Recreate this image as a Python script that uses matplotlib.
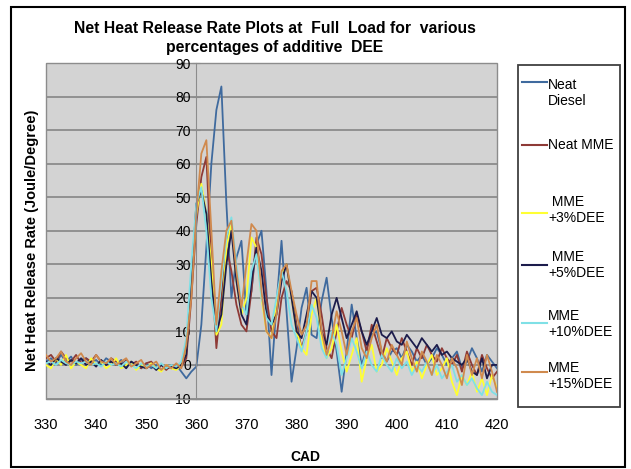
import matplotlib
matplotlib.use("Agg")
import matplotlib.pyplot as plt
from matplotlib.lines import Line2D
from matplotlib.patches import Rectangle

# crank angle (deg), one reading per degree
cad = list(range(330, 421))

neat_diesel = [
    1, 2, 0.5, 3, 1, 2.5, 0, 1.5, 2, 0.5,
    1.5, 0, 2, 1, 0, 1.5, -0.5, 1, 0, -1,
    0.5, -1, 0, -1.5, -0.5, -1, 0, -2, -4, -2,
    -0.5, 12, 35, 60, 76, 83, 48, 20, 32, 37,
    15, 22, 36, 40, 22, -3, 18, 37, 16, -5,
    5, 17, 23, 9, 8, 19, 26, 14, 4, -8,
    4, 18, 8, 0, 5, 9, 10, 4, 1, 4,
    5, 2, 6, 4, 1, 3, 0, 2, 5, 3,
    0, 2, 4, -1, 1, 5, 2, -2, 3, 1, -1,
]
neat_mme = [
    2, 3, 1, 4, 2, 1, 3, 0.5, 2, 1,
    3, 1, 0, 2, 1, -0.5, 1.5, 0, 1, -1,
    0.5, 1, -1, 0, -1.5, 0, -1, -0.5, 2, 20,
    42, 56, 62, 30, 5, 20, 35, 28, 18, 12,
    10, 22, 38, 33, 20, 10, 8, 20, 25, 22,
    12, 5, 10, 22, 23, 15, 5, 2, 10, 17,
    12, 8, 15, 10, 4, 12, 7, 2, 8, 5,
    3, 8, 4, 0, 5, 2, 6, 3, 1, 5,
    2, 0, 3, -2, 4, 0, -3, 3, -1, -4, -2,
]
mme_3dee = [
    0, -1, 2, 0, 3, -1, 1, 0, -1, 2,
    0, 1, -1, 0, 2, -1, 0, 1, -1.5, 0,
    -1, 0.5, -1, -2, 0, -1, -1.5, 0, 5, 25,
    45, 54, 45, 30, 9, 12, 35, 42, 25, 15,
    20, 38, 35, 20, 10, 8, 18, 27, 30, 20,
    10, 5, 3, 15, 20, 8, 2, 5, 12, 4,
    -2, 3, 8, -5, 2, 6, -2, 0, 5, 1,
    -3, 2, 4, -2, 1, -4, 0, 3, -3, -1,
    2, -5, -9, -3, -6, -2, -8, -4, -9, -3, -7,
]
mme_5dee = [
    1, 0, 2, 1, 0, 1.5, 0.5, 2, 0, 1,
    -0.5, 1.5, 0, 1, 0, 0.5, -1, 1, 0, -0.5,
    -1, 0, -1.5, 0, -1, -0.5, -1, 0, 3, 25,
    48, 52, 45, 25, 10, 15, 30, 40, 25, 15,
    12, 25, 35, 28, 15, 12, 15, 25, 30, 20,
    10, 8, 15, 22, 20, 10, 6, 15, 20, 14,
    8, 12, 16, 10, 6, 10, 14, 9, 8, 10,
    7, 6, 9, 7, 5, 8, 6, 4, 6, 3,
    4, 2, 1, 0, 2, -2, -3, 2, -4, 0, 0,
]
mme_10dee = [
    0.5, 1, 0, 1.5, 0.5, 0, 1, 0.5, 1, 0,
    0.5, -0.5, 1, 0, 0.5, -0.5, 1, 0, -1, 0.5,
    -0.5, 0, -1, 0.5, -1, 0, -0.5, 1, 8, 30,
    48, 53, 40, 20, 10, 25, 38, 44, 30, 18,
    15, 28, 33, 20, 14, 12, 20, 28, 22, 12,
    8, 4, 10, 18, 14, 5, 2, 10, 6, -3,
    2, 8, 4, -1, 4, 0, -2, 3, 0, -2,
    2, -1, 1, -3, 0, -2, 1, -3, 0, -4,
    -2, 0, -5, -3, -6, -4, -7, -9, -5, -8, -9,
]
mme_15dee = [
    3, 1, 2, 4, 1, 0, 2, 3.5, 1, 0,
    3, 1, 0.5, 2, 0, 1, 2, -0.5, 0.5, 1.5,
    -1, 0, 1, -1.5, 0, -1, 0.5, -1, 6, 20,
    45, 63, 67, 40, 12, 28, 40, 43, 28, 17,
    30, 42, 40, 22, 10, 8, 15, 28, 30, 22,
    15, 9, 12, 25, 25, 10, 3, 8, 16, 10,
    3, 10, 14, 5, 2, 8, 12, 4, 1, 6,
    3, 0, 7, 2, -2, 4, 1, -3, 3, 0,
    -4, 2, -1, -6, 3, -3, 2, -4, 3, -2, -8,
]

series = [neat_diesel, neat_mme, mme_3dee, mme_5dee, mme_10dee, mme_15dee]
labels = ["Neat\nDiesel", "Neat MME", " MME\n+3%DEE", " MME\n+5%DEE",
          "MME\n+10%DEE", "MME\n+15%DEE"]
colors = ["#3F6A9E", "#8E3A36", "#FFFF33", "#1C1C4C", "#7FE0E6", "#D08A4E"]

plt.rcParams["font.family"] = ["Liberation Sans", "DejaVu Sans"]

W, H = 631, 469
fig = plt.figure(figsize=(W / 100, H / 100), dpi=100)
ax = fig.add_axes([46 / W, 1 - 398.5 / H, (497 - 46) / W, (398.5 - 63) / H])
ax.set_facecolor("#D3D3D3")
ax.patch.set_edgecolor("#8C8C8C")
ax.patch.set_linewidth(1.0)

for y, lab, c in zip(series, labels, colors):
    ax.plot(cad, y, color=c, lw=1.3, label=lab)

ax.set_xlim(330, 420)
ax.set_ylim(-10, 90)
ax.set_xticks(range(330, 421, 10))
ax.set_yticks(range(-10, 91, 10))
ax.grid(axis="y", color="#8C8C8C", lw=1.3)
ax.set_axisbelow(True)

for s in ["top", "right"]:
    ax.spines[s].set_visible(False)
ax.spines["left"].set_position(("data", 360))
ax.spines["left"].set_color("#8C8C8C")
ax.spines["bottom"].set_color("#8C8C8C")
ax.tick_params(axis="y", direction="inout", length=6, color="#8C8C8C",
               labelsize=10, pad=1)
ax.tick_params(axis="x", length=0, labelsize=10.5, pad=14)

fig.text(275 / W, 1 - 38 / H,
         "Net Heat Release Rate Plots at  Full  Load for  various\n"
         "percentages of additive  DEE",
         ha="center", va="center", fontsize=11.3, weight="bold", linespacing=1.3)
fig.text(32 / W, 1 - 240 / H, "Net Heat Release Rate (Joule/Degree)",
         rotation=90, ha="center", va="center", fontsize=10.5, weight="bold")
fig.text(305 / W, 1 - 457 / H, "CAD", ha="center", va="center",
         fontsize=10, weight="bold")

# legend drawn as in the spreadsheet: boxed, with uneven row spacing
fig.add_artist(Rectangle((518 / W, 1 - 407 / H), (620 - 518) / W, (407 - 65) / H,
                         transform=fig.transFigure, facecolor="white",
                         edgecolor="#404040", lw=1.3))
handle_y = [82, 145, 213, 265, 323, 372]
text_y = [93, 145, 210, 265, 324, 376]
for lab, c, hy, ty in zip(labels, colors, handle_y, text_y):
    fig.add_artist(Line2D([522 / W, 547 / W], [1 - hy / H, 1 - hy / H],
                          transform=fig.transFigure, color=c, lw=1.5))
    fig.text(548 / W, 1 - ty / H, lab, ha="left", va="center",
             fontsize=10, linespacing=1.15)

fig.add_artist(Rectangle((11 / W, 2 / H), (625 - 11) / W, (467 - 7) / H,
                         transform=fig.transFigure, fill=False,
                         edgecolor="black", lw=1.5))

fig.savefig("out.png", dpi=100)
